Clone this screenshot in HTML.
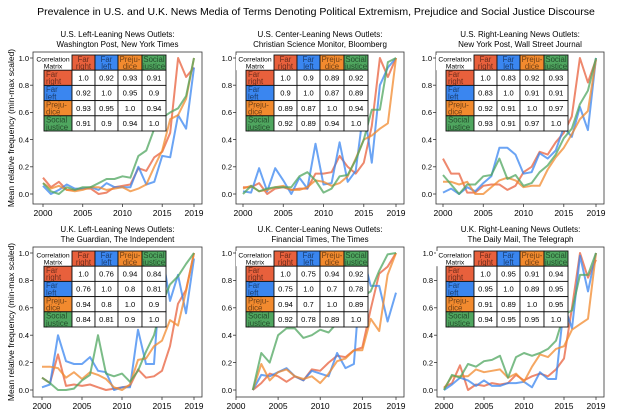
<!DOCTYPE html>
<html><head><meta charset="utf-8"><style>
body{margin:0;background:#fff;}
svg{display:block;font-family:"Liberation Sans","DejaVu Sans",sans-serif;}
</style></head><body>
<svg id="s" width="632" height="417" viewBox="0 0 632 417" xmlns="http://www.w3.org/2000/svg">
<text x="316" y="15" font-size="10.5" text-anchor="middle" fill="#000">Prevalence in U.S. and U.K. News Media of Terms Denoting Political Extremism, Prejudice and Social Justice Discourse</text>
<text transform="translate(14,128) rotate(-90)" font-size="8.5" text-anchor="middle">Mean relative frequency (min-max scaled)</text>
<text transform="translate(14,322) rotate(-90)" font-size="8.5" text-anchor="middle">Mean relative frequency (min-max scaled)</text>
</svg>
<script>
const C={r:"#e8603c",b:"#3a86f0",o:"#f28a2e",g:"#4fa65f"};
const P=[
{L:33,R:202,T:52,B:204,x0:43,x1:194,y0:194,y1:58,px:44,tt:55,t:["U.S. Left-Leaning News Outlets:","Washington Post, New York Times"],
 m:[["1.0","0.92","0.93","0.91"],["0.92","1.0","0.95","0.9"],["0.93","0.95","1.0","0.94"],["0.91","0.9","0.94","1.0"]],s:2000,
 d:{r:[.12,.05,.09,.03,.03,.04,.04,0,.01,.05,.06,.07,.19,.17,.27,.31,.45,1,.86,.93],
 b:[.06,0,.03,.07,.04,.04,.05,.03,.08,.05,.05,.05,.2,.07,.09,.28,.27,.58,.48,.93],
 o:[.08,.04,.06,.03,.02,.03,.05,.05,.03,.04,.05,.02,.04,.07,.2,.32,.55,.58,.7,1],
 g:[.08,.02,0,.05,.03,.05,.05,.08,.11,.11,.13,.12,.28,.32,.48,.56,.6,.63,.72,1]}},
{L:236,R:404,T:52,B:204,x0:243,x1:396,y0:194,y1:58,px:246,tt:55,t:["U.S. Center-Leaning News Outlets:","Christian Science Monitor, Bloomberg"],
 m:[["1.0","0.9","0.89","0.92"],["0.9","1.0","0.87","0.89"],["0.89","0.87","1.0","0.94"],["0.92","0.89","0.94","1.0"]],s:2000,
 d:{r:[.05,.05,.08,0,.04,.05,.03,.04,.04,.15,.15,.16,.28,.2,.15,.23,.5,1,.86,1],
 b:[.02,.01,.19,.02,.19,.1,0,.12,.04,.37,.07,.08,.38,.09,.17,.63,.23,.8,.93,1],
 o:[.04,.06,.02,.03,.05,.06,.03,.03,.05,.1,.09,.06,.08,.13,.26,.4,.43,.48,.52,1],
 g:[0,.06,.02,.04,.05,.05,.05,.13,.16,.1,.01,.04,.13,.14,.25,.4,.62,.62,.97,1]}},
{L:436,R:604,T:52,B:204,x0:443,x1:596,y0:194,y1:58,px:446,tt:55,t:["U.S. Right-Leaning News Outlets:","New York Post, Wall Street Journal"],
 m:[["1.0","0.83","0.92","0.93"],["0.83","1.0","0.91","0.91"],["0.92","0.91","1.0","0.97"],["0.93","0.91","0.97","1.0"]],s:2000,
 d:{r:[.26,.15,.15,.01,.01,.06,.07,.07,.03,.06,.16,.2,.31,.29,.38,.45,.57,1,.82,.99],
 b:[.01,.04,0,.05,.02,.08,.13,.34,.34,.29,.15,.16,.3,.26,.32,.49,.42,.64,.47,1],
 o:[.09,.09,.07,.09,0,0,.05,.1,.12,.1,.05,.06,.06,.18,.27,.34,.44,.55,.61,.99],
 g:[.14,.07,0,.07,.07,.13,.14,.26,.11,.14,.06,.08,.16,.21,.29,.41,.48,.66,.76,1]}},
{L:33,R:202,T:247,B:397,x0:42,x1:194,y0:390,y1:253,px:44,tt:251,t:["U.K. Left-Leaning News Outlets:","The Guardian, The Independent"],
 m:[["1.0","0.76","0.94","0.84"],["0.76","1.0","0.8","0.81"],["0.94","0.8","1.0","0.9"],["0.84","0.81","0.9","1.0"]],s:2000,
 d:{r:[.09,.05,.26,.03,.04,.03,.04,.02,0,.01,.02,.03,.15,.09,.1,.14,.32,.63,.73,1],
 b:[.02,.04,.4,.21,.19,.19,.24,.14,.13,0,.02,.02,.44,.19,.19,1,.65,.84,.56,.96],
 o:[.17,.17,.16,.09,.13,.08,.13,.11,.08,.02,0,.04,.22,.23,.32,.36,.51,.47,.72,1],
 g:[.09,.05,0,0,.01,.07,.11,.4,.12,.1,.12,.06,.14,.28,.4,.63,.77,.83,.92,1]}},
{L:236,R:404,T:247,B:397,x0:236,x1:396,y0:390,y1:253,px:246,tt:251,t:["U.K. Center-Leaning News Outlets:","Financial Times, The Times"],
 m:[["1.0","0.75","0.94","0.92"],["0.75","1.0","0.7","0.78"],["0.94","0.7","1.0","0.89"],["0.92","0.78","0.89","1.0"]],s:2002,
 d:{r:[0,.05,.12,.1,.06,.1,.07,.15,.14,.2,.25,.24,.29,.31,.59,.85,.9,1],
 b:[0,.11,.1,.13,.16,.1,.07,.14,.12,.1,.27,.16,.19,1,.76,.76,.5,.71],
 o:[0,.19,.07,.13,.15,.1,.08,.1,.05,.12,.21,.23,.29,.29,.52,.43,.84,1],
 g:[0,.27,.2,.4,.45,.45,.38,.4,.44,.42,.49,.49,.63,.68,.72,.87,.99,1]}},
{L:437,R:604,T:247,B:397,x0:444,x1:596,y0:390,y1:253,px:446,tt:251,t:["U.K. Right-Leaning News Outlets:","The Daily Mail, The Telegraph"],
 m:[["1.0","0.95","0.91","0.94"],["0.95","1.0","0.89","0.95"],["0.91","0.89","1.0","0.95"],["0.94","0.95","0.95","1.0"]],s:2000,
 d:{r:[.02,.05,.18,0,.04,.03,.05,.04,.05,.11,.07,.1,.12,.1,.15,.23,.6,1,.82,.95],
 b:[0,.04,.09,.07,.03,.07,.03,.03,.05,.05,.06,.02,.13,.08,.08,.62,.45,.98,.72,1],
 o:[.01,.1,.1,.1,.15,.13,.14,.15,.09,.12,.06,.17,.26,.24,.3,.32,.44,.48,.52,1],
 g:[0,.11,.09,.19,.17,.21,.22,.25,.09,.24,.27,.25,.27,.3,.36,.55,.58,.84,.84,1]}}
];
const H=[["Far","right","r"],["Far","left","b"],["Preju-","dice","o"],["Social","justice","g"]];
let h="";
for(const p of P){
 const cx=(p.L+p.R)/2;
 h+=`<text x="${cx}" y="${p.T-15}" font-size="8" text-anchor="middle">${p.t[0]}</text><text x="${cx}" y="${p.T-5}" font-size="8" text-anchor="middle">${p.t[1]}</text>`;
 const X=y=>p.x0+(y-2000)*(p.x1-p.x0)/19, Y=v=>p.y0-v*(p.y0-p.y1);
 for(const k of ["r","b","o","g"]){
  const pts=p.d[k].map((v,i)=>X(p.s+i).toFixed(1)+","+Y(v).toFixed(1)).join(" ");
  h+=`<polyline points="${pts}" fill="none" stroke="${C[k]}" stroke-width="2" stroke-opacity="0.75" stroke-linejoin="round"/>`;
 }
 h+=`<rect x="${p.L}" y="${p.T}" width="${p.R-p.L}" height="${p.B-p.T}" fill="none" stroke="#333" stroke-width="0.8"/>`;
 for(let i=0;i<=5;i++){const v=i/5,y=Y(v);
  h+=`<line x1="${p.L-3}" x2="${p.L}" y1="${y}" y2="${y}" stroke="#333" stroke-width="0.8"/><text x="${p.L-4}" y="${y+2.8}" font-size="7.5" text-anchor="end">${v.toFixed(1)}</text>`;}
 for(const yr of [2000,2005,2010,2015,2019]){const x=X(yr);
  h+=`<line x1="${x}" x2="${x}" y1="${p.B}" y2="${p.B+3}" stroke="#333" stroke-width="0.8"/><text x="${x}" y="${p.B+12}" font-size="8.5" text-anchor="middle">${yr}</text>`;}
 const px=p.px, cols=[px,px+28,px+51,px+74,px+98,px+122], t=p.tt, rh=15.2;
 const rows=[t,t+rh,t+2*rh,t+3*rh,t+4*rh,t+5*rh];
 h+=`<rect x="${px-10}" y="${t}" width="38" height="${rh}" fill="#fff"/>`;
 h+=`<text x="${px+9}" y="${t+6.5}" font-size="6.8" text-anchor="middle">Correlation</text><text x="${px+9}" y="${t+13.5}" font-size="6.8" text-anchor="middle">Matrix</text>`;
 const tf=`fill="#000" fill-opacity="0.55" font-size="7.8"`;
 for(let j=0;j<4;j++){const x=cols[j+1],w=cols[j+2]-x;
  h+=`<rect x="${x}" y="${t}" width="${w}" height="${rh}" fill="${C[H[j][2]]}" stroke="#111" stroke-width="0.9"/>`;
  h+=`<text x="${x+w/2}" y="${t+6.8}" ${tf} text-anchor="middle">${H[j][0]}</text><text x="${x+w/2}" y="${t+14}" ${tf} text-anchor="middle">${H[j][1]}</text>`;}
 for(let i=0;i<4;i++){const y=rows[i+1];
  h+=`<rect x="${px}" y="${y}" width="28" height="${rh}" fill="${C[H[i][2]]}" stroke="#111" stroke-width="0.9"/>`;
  h+=`<text x="${px+2}" y="${y+6.8}" ${tf}>${H[i][0]}</text><text x="${px+2}" y="${y+14}" ${tf}>${H[i][1]}</text>`;
  for(let j=0;j<4;j++){const x=cols[j+1],w=cols[j+2]-x;
   h+=`<rect x="${x}" y="${y}" width="${w}" height="${rh}" fill="#fff" stroke="#111" stroke-width="0.9"/><text x="${x+w/2}" y="${y+10.3}" font-size="7.6" text-anchor="middle">${p.m[i][j]}</text>`;}
 }
}
document.getElementById("s").insertAdjacentHTML("beforeend",h);
</script>
</body></html>
